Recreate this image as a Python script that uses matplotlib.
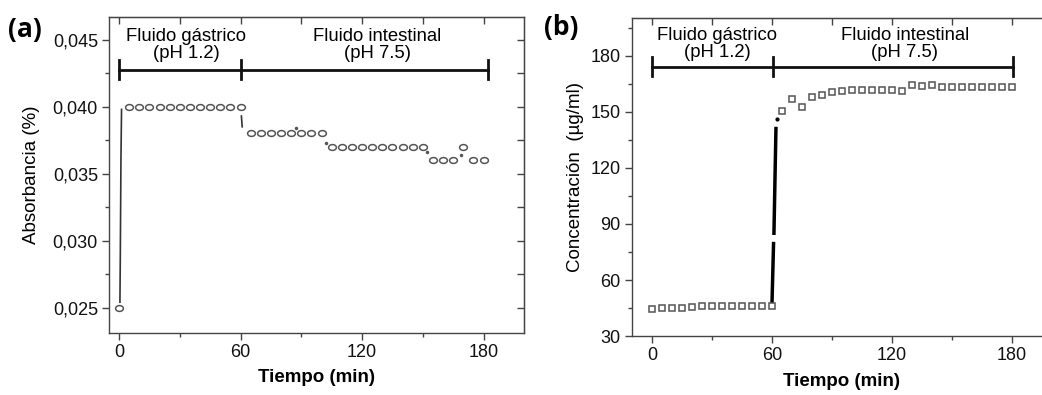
import matplotlib
matplotlib.use("Agg")
import matplotlib.pyplot as plt
import numpy as np
from matplotlib.path import Path
from matplotlib.ticker import MultipleLocator, FuncFormatter

plt.rcParams['font.family'] = ['Liberation Sans', 'DejaVu Sans']

# (a) absorbance vs time
t_a = [0, 5, 10, 15, 20, 25, 30, 35, 40, 45, 50, 55, 60,
       65, 70, 75, 80, 85, 90, 95, 100,
       105, 110, 115, 120, 125, 130, 135, 140, 145, 150,
       155, 160, 165, 170, 175, 180]
abs_a = [0.025] + [0.040] * 12 + [0.038] * 8 + [0.037] * 10 + \
        [0.036, 0.036, 0.036, 0.037, 0.036, 0.036]
# fragments of the thin trace between points
trace_a_x = [0.4, 0.6, 0.9, 1.2]
trace_a_y = [0.0254, 0.0290, 0.0360, 0.0398]
step_a_x = [60.4, 60.8]
step_a_y = [0.0393, 0.0385]
dots_a_x = [87.5, 102, 152, 169]
dots_a_y = [0.0384, 0.0373, 0.0366, 0.0364]

# (b) concentration vs time
t_b = [0, 5, 10, 15, 20, 25, 30, 35, 40, 45, 50, 55, 60,
       65, 70, 75, 80, 85, 90, 95, 100, 105, 110, 115, 120, 125,
       130, 135, 140, 145, 150, 155, 160, 165, 170, 175, 180]
conc_b = [44.3, 45.2, 45.2, 45.2, 45.7, 46.1, 46.1, 46.1, 46.1, 46.1, 46.1, 46.1, 46.1,
          150.5, 156.9, 152.5, 157.6, 158.7, 160.3, 161.2, 161.4, 161.6, 161.6, 161.6,
          161.6, 161.0, 164.3, 164.0, 164.3, 163.2, 163.2, 163.2, 163.2, 163.2, 163.2,
          163.2, 163.2]
rise_b_x = [[60.0, 60.8], [61.0, 62.0]]
rise_b_y = [[46.5, 79.5], [85.0, 141.0]]
dot_b = (62.3, 146.2)

phase_edges = [0, 60, 182]
phase_names = ["Fluido gástrico\n(pH 1.2)", "Fluido intestinal\n(pH 7.5)"]

# slightly flattened open circle, like the original markers
th = np.linspace(0, 2 * np.pi, 40)
ellipse = Path(np.column_stack([np.cos(th), 0.75 * np.sin(th)]), closed=True)

fig = plt.figure(figsize=(10.42, 3.95), dpi=100)
ax1 = fig.add_axes([0.1046, 0.157, 0.3983, 0.80])
ax2 = fig.add_axes([0.6065, 0.149, 0.403, 0.805])

edge = '#555555'
for ax in (ax1, ax2):
    for s in ax.spines.values():
        s.set_color('#444444')
        s.set_linewidth(1.0)
    ax.tick_params(which='both', colors='#444444', labelcolor='#111111', labelsize=13)
    ax.tick_params(which='major', length=5, width=1, pad=3)
    ax.tick_params(which='minor', length=3, width=1)
    # outward ticks on bottom and left
    ax.tick_params(axis='x', which='both', direction='out', top=False)
    ax.tick_params(axis='y', which='both', direction='out', right=False)
    ax.xaxis.set_major_locator(MultipleLocator(60))
    ax.xaxis.set_minor_locator(MultipleLocator(30))
    ax.set_xlabel('Tiempo (min)', fontsize=13.5, fontweight='bold', labelpad=6)

# ---- panel (a)
ax1.plot(trace_a_x, trace_a_y, color='#333333', lw=1.2)
ax1.plot(step_a_x, step_a_y, color='#333333', lw=1.2)
ax1.plot(dots_a_x, dots_a_y, ls='none', marker='o', ms=1.5, color='#555555')
ax1.plot(t_a, abs_a, ls='none', marker=ellipse, ms=5.6, mfc='white', mec=edge, mew=1.1)
ax1.set_xlim(-5, 200)
ax1.set_ylim(0.0231, 0.0467)
ax1.yaxis.set_major_locator(MultipleLocator(0.005))
ax1.yaxis.set_minor_locator(MultipleLocator(0.0025))
ax1.yaxis.set_major_formatter(FuncFormatter(lambda v, p: f"{v:.3f}".replace('.', ',')))
ax1.set_ylabel('Absorbancia (%)', fontsize=13.5, labelpad=9)

yb = 0.04276
cap = 0.0007
ax1.plot([phase_edges[0], phase_edges[-1]], [yb, yb], color='#111111', lw=2)
for xe in phase_edges:
    ax1.plot([xe, xe], [yb - cap, yb + cap], color='#111111', lw=2)
ax1.text(33, 0.04460, phase_names[0], ha='center', va='center', fontsize=13.3, linespacing=1.05)
ax1.text(127.5, 0.04460, phase_names[1], ha='center', va='center', fontsize=13.3, linespacing=1.05)

# ---- panel (b)
for xs, ys in zip(rise_b_x, rise_b_y):
    ax2.plot(xs, ys, color='black', lw=2.5)
ax2.plot([dot_b[0]], [dot_b[1]], ls='none', marker='o', ms=2, color='black')
ax2.plot(t_b, conc_b, ls='none', marker='s', ms=4.6, mfc='white', mec=edge, mew=1.1)
ax2.set_xlim(-10, 200)
ax2.set_ylim(30, 200)
ax2.yaxis.set_major_locator(MultipleLocator(30))
ax2.yaxis.set_minor_locator(MultipleLocator(15))
ax2.set_ylabel('Concentración  (µg/ml)', fontsize=13.5, labelpad=5)

yb = 174.1
cap = 5.0
ax2.plot([0, 180.5], [yb, yb], color='#111111', lw=2)
for xe in [0, 60.5, 180.5]:
    ax2.plot([xe, xe], [yb - cap, yb + cap], color='#111111', lw=2)
ax2.text(32.5, 186.2, phase_names[0], ha='center', va='center', fontsize=13.3, linespacing=1.05)
ax2.text(126.5, 186.2, phase_names[1], ha='center', va='center', fontsize=13.3, linespacing=1.05)

# inward ticks on top and right
for ax in (ax1, ax2):
    tx = ax.secondary_xaxis('top')
    tx.xaxis.set_major_locator(MultipleLocator(30))
    tx.tick_params(direction='in', length=5, width=1, colors='#444444', labeltop=False)
    tx.set_xticklabels([])
    ty = ax.secondary_yaxis('right')
    ty.yaxis.set_major_locator(ax.yaxis.get_minor_locator())
    ty.tick_params(direction='in', length=5, width=1, colors='#444444', labelright=False)
    ty.set_yticklabels([])

fig.text(0.008, 0.925, '(a)', fontsize=19, fontweight='bold', family=['Open Sans', 'DejaVu Sans'],
         ha='left', va='center')
fig.text(0.522, 0.93, '(b)', fontsize=19, fontweight='bold', family=['Open Sans', 'DejaVu Sans'],
         ha='left', va='center')

fig.savefig('out.png', dpi=100)
